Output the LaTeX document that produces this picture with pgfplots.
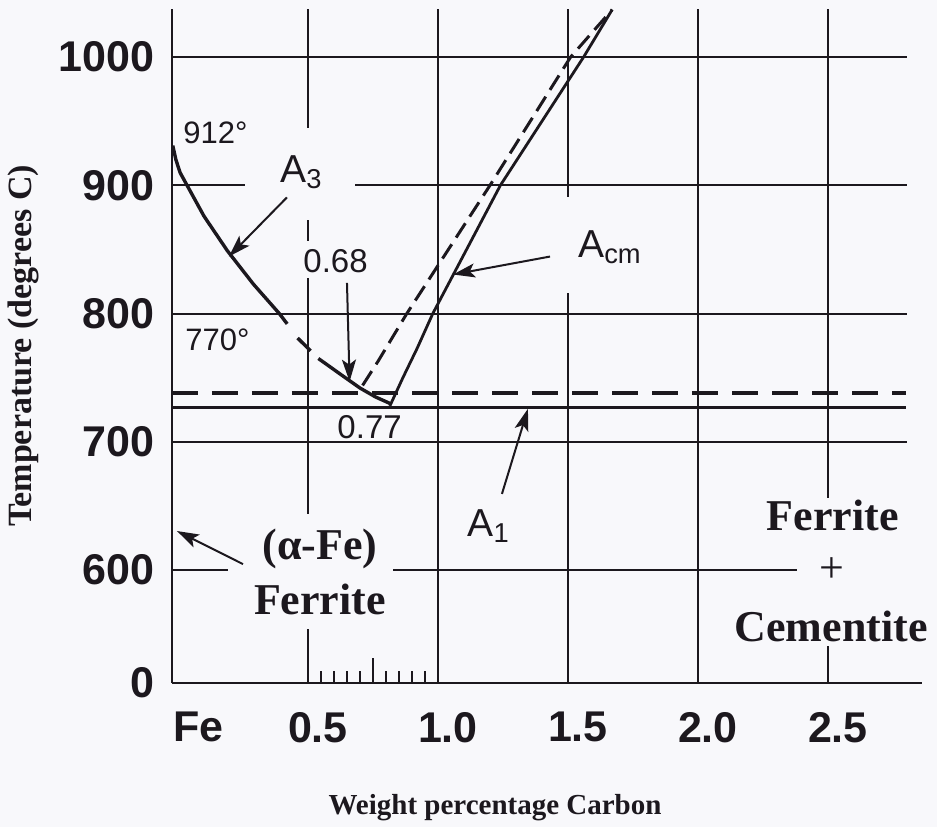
\documentclass[border=0pt]{standalone}
\usepackage{fontspec}
\setmainfont{Liberation Serif}
\newfontfamily\helv{Liberation Sans}
\usepackage{pgfplots}
\usepackage{pgfplotstable}
\pgfplotsset{compat=1.18}
\usetikzlibrary{arrows.meta}

\definecolor{paper}{RGB}{248,248,251}
\definecolor{ink}{RGB}{28,24,30}

% A3 line, drawn in three pieces (solid, one dash, solid)
\pgfplotstableread{
x y
-0.020 931
-0.008 920
0.008 910
0.035 900
0.100 876
0.190 849
0.290 823
0.390 800
0.420 792
}\athreeA
\pgfplotstableread{
x y
0.46 781
0.51 771
}\athreeB
\pgfplotstableread{
x y
0.540 765
0.630 752
0.700 742
0.760 735
0.815 730
}\athreeC
% Acm, dashed and solid
\pgfplotstableread{
x y
0.71 744
0.77 763
0.88 800
1.20 900
1.51 1000
1.67 1037
}\acmdash
\pgfplotstableread{
x y
0.815 728
0.865 750
0.920 773
0.980 800
1.240 900
1.560 1000
1.670 1037
}\acm

\begin{document}
\begin{tikzpicture}
\useasboundingbox (-86pt,-72pt) rectangle (382.5pt,341.5pt);
\fill[paper] (-86pt,-72pt) rectangle (382.5pt,341.5pt);
\begin{axis}[
  at={(0,0)}, anchor=south west,
  scale only axis, width=367.5pt, height=337pt,
  xmin=-0.023, xmax=2.804, ymin=512, ymax=1037.5,
  clip=false,
  axis lines*=left,
  axis line style={ink, line width=1.1pt},
  xtick={0.5,1,1.5,2,2.5}, xticklabels={0.5,1.0,1.5,2.0,2.5},
  extra x ticks={0.04}, extra x tick labels={Fe},
  ytick={600,700,800,900,1000}, yticklabels={600,700,800,900,1000},
  extra y ticks={512}, extra y tick labels={0},
  extra tick style={grid=none},
  grid=major,
  major grid style={ink, line width=1.1pt},
  major tick length=0pt,
  minor xtick={0.55,0.6,0.65,0.7,0.8,0.85,0.9,0.95},
  minor tick length=6pt, tick align=inside,
  minor tick style={ink, line width=0.9pt},
  xticklabel style={font=\helv\bfseries\fontsize{21.5}{24}\selectfont, text=ink,
    anchor=north, inner sep=0pt, yshift=-14.5pt, xshift=5pt},
  yticklabel style={font=\helv\bfseries\fontsize{21.5}{24}\selectfont, text=ink,
    anchor=east, inner sep=0pt, xshift=-8.5pt},
  xlabel={Weight percentage Carbon},
  xlabel style={font=\bfseries\fontsize{14.5}{17}\selectfont, text=ink,
    at={([yshift=-62.5pt]axis description cs:0.4395,0)}, anchor=center},
  ylabel={Temperature (degrees C)},
  ylabel style={font=\bfseries\fontsize{17}{19}\selectfont, text=ink,
    at={([xshift=-74.5pt]axis description cs:0,0.5)}, anchor=center},
]
% gaps in the grid behind the labels
\fill[paper] (axis cs:0.258,873) rectangle (axis cs:0.681,945);
\fill[paper] (axis cs:0.47,828) rectangle (axis cs:0.53,857);
\fill[paper] (axis cs:1.47,816) rectangle (axis cs:1.53,891);
\fill[paper] (axis cs:0.192,554) rectangle (axis cs:0.827,644);
\fill[paper] (axis cs:2.381,541) rectangle (axis cs:2.83,656);
\draw[ink, line width=1.1pt] (axis cs:2.804,512) -- (axis cs:2.862,512);
\draw[ink, line width=0.9pt] (axis cs:0.75,512) -- (axis cs:0.75,531.5);

% A1 lines
\addplot[ink, line width=1.3pt] coordinates {(-0.023,727) (2.80,727)};
\addplot[ink, line width=1.7pt, dash pattern=on 13pt off 7pt] coordinates {(-0.023,738) (2.80,738)};
% A3
\addplot[ink, line width=1.7pt, line join=round] table {\athreeA};
\addplot[ink, line width=1.7pt] table {\athreeB};
\addplot[ink, line width=1.7pt, line join=round] table {\athreeC};
% Acm
\addplot[ink, line width=1.5pt, dash pattern=on 8.5pt off 4pt] table {\acmdash};
\addplot[ink, line width=1.4pt, line join=round] table {\acm};

% labels
\tikzset{sanslbl/.style={font=\helv\fontsize{#1}{#1}\selectfont, text=ink, inner sep=0pt, anchor=base west}}
\node[sanslbl=15.5] at (axis cs:0.019,932.8) {912°};
\node[sanslbl=15.5] at (axis cs:0.027,771) {770°};
\node[sanslbl=16.5] at (axis cs:0.481,832) {0.68};
\node[sanslbl=16.5] at (axis cs:0.612,703) {0.77};
\node[sanslbl=19.5] at (axis cs:0.392,902.3) {A\textsubscript{3}};
\node[sanslbl=19.5] at (axis cs:1.538,843.7) {A\textsubscript{cm}};
\node[sanslbl=19.5] at (axis cs:1.112,626.6) {A\textsubscript{1}};

\tikzset{serlbl/.style={font=\bfseries\fontsize{22}{24}\selectfont, text=ink, inner sep=0pt, anchor=center}}
\node[serlbl] at (axis cs:0.546,616.4) {(α-Fe)};
\node[serlbl] at (axis cs:0.546,577.3) {Ferrite};
\node[serlbl] at (axis cs:2.519,643) {Ferrite};
\node[serlbl, font=\fontsize{22}{24}\selectfont] at (axis cs:2.515,600) {+};
\node[serlbl] at (axis cs:2.512,556.3) {Cementite};

% arrows
\tikzset{arr/.style={ink, line width=1pt, -{Stealth[length=11pt,width=7pt,inset=2.5pt]}}}
\draw[arr] (axis cs:0.419,890.6) -- (axis cs:0.196,844.5);
\draw[arr] (axis cs:0.65,824) -- (axis cs:0.66,747);
\draw[arr] (axis cs:1.431,844.5) -- (axis cs:1.058,830.5);
\draw[arr] (axis cs:1.246,659.4) -- (axis cs:1.346,725.8);
\draw[arr] (axis cs:0.25,604.7) -- (axis cs:-0.004,630.5);
\end{axis}
\end{tikzpicture}
\end{document}
